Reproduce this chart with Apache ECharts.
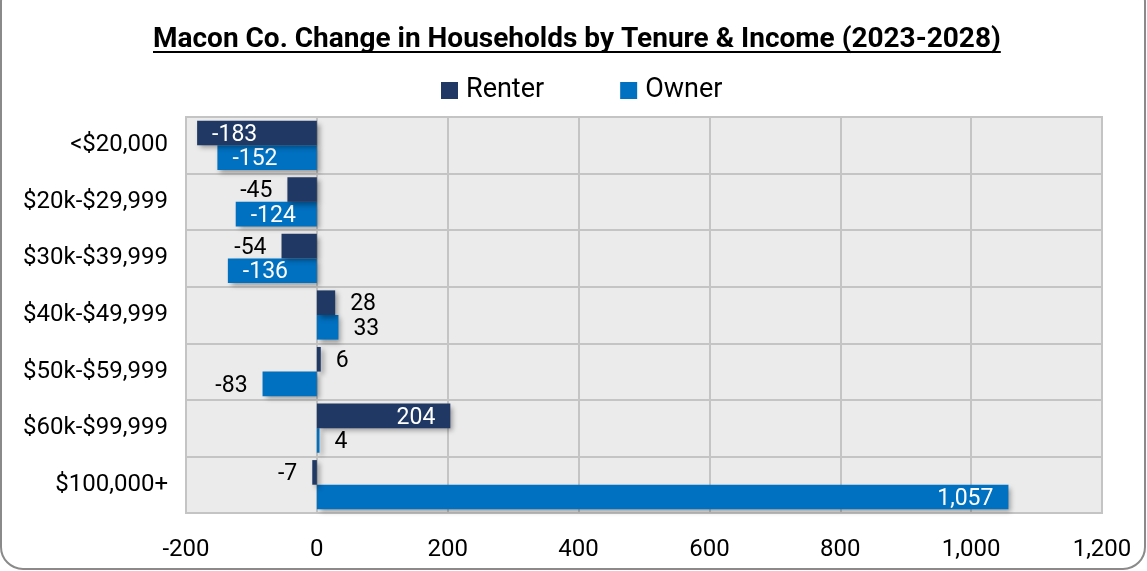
<!DOCTYPE html>
<html>
<head>
<meta charset="utf-8">
<script src="https://cdn.jsdelivr.net/npm/echarts@6/dist/echarts.min.js"></script>
<style>
  html, body { margin: 0; padding: 0; background: #fff; }
  #chart { width: 1147px; height: 571px; }
</style>
</head>
<body>
<div id="chart"></div>
<script>
const titleText = 'Macon Co. Change in Households by Tenure & Income (2023-2028)';
const categories = ['<$20,000', '$20k-$29,999', '$30k-$39,999', '$40k-$49,999', '$50k-$59,999', '$60k-$99,999', '$100,000+'];
const seriesNames = ['Renter', 'Owner'];
const renterValues = [-183, -45, -54, 28, 6, 204, -7];
const ownerValues = [-152, -124, -136, 33, -83, 4, 1057];
const xMin = -200, xMax = 1200, xStep = 200;

const FONT = 'Roboto, "Noto Sans", sans-serif';
const colors = ['#1f3864', '#0070c0'];
const INSIDE_LIMIT = 100;

function fmt(v) {
  return v.toLocaleString('en-US');
}
function toData(values) {
  return values.map(v => {
    const inside = Math.abs(v) >= INSIDE_LIMIT;
    let pos;
    if (inside) pos = v < 0 ? 'insideLeft' : 'insideRight';
    else pos = v < 0 ? 'left' : 'right';
    return {
      value: v,
      label: { position: pos, color: inside ? '#ffffff' : '#000000' }
    };
  });
}

// measure title width for underline
const mc = document.createElement('canvas').getContext('2d');
const titleSize = 28;
mc.font = 'bold ' + titleSize + 'px ' + FONT;
const tw = mc.measureText(titleText).width;
const titleLeft = 153;

const chart = echarts.init(document.getElementById('chart'), null, { renderer: 'canvas' });

const barStyle = (c) => ({
  color: c,
  shadowColor: 'rgba(0,0,0,0.35)',
  shadowBlur: 5,
  shadowOffsetX: 3,
  shadowOffsetY: 3
});

const option = {
  animation: false,
  textStyle: { fontFamily: FONT },
  title: {
    text: titleText,
    left: titleLeft - 5,
    top: 21,
    textStyle: { fontFamily: FONT, fontSize: titleSize, fontWeight: 'bold', color: '#000' }
  },
  legend: {
    data: seriesNames,
    top: 72,
    left: 436,
    itemWidth: 17,
    itemHeight: 17,
    itemGap: 76,
    icon: 'rect',
    textStyle: { fontFamily: FONT, fontSize: 27, color: '#000', padding: [0, 0, 0, 3] }
  },
  grid: {
    left: 186, right: 45, top: 117, bottom: 58,
    show: true,
    backgroundColor: '#ebebeb',
    borderColor: '#c4c4c4',
    borderWidth: 2
  },
  xAxis: {
    type: 'value',
    min: xMin, max: xMax, interval: xStep,
    axisLine: { show: false },
    axisTick: { show: false },
    splitLine: { show: true, lineStyle: { color: '#c4c4c4', width: 2 } },
    axisLabel: {
      margin: 25,
      fontFamily: FONT, fontSize: 24, color: '#000',
      formatter: v => fmt(v)
    }
  },
  yAxis: {
    type: 'category',
    data: categories,
    inverse: true,
    axisLine: { show: false },
    axisTick: { show: false },
    splitLine: { show: true, lineStyle: { color: '#c4c4c4', width: 2 } },
    axisLabel: { margin: 18, fontFamily: FONT, fontSize: 24, color: '#000' }
  },
  series: [
    {
      name: seriesNames[0], type: 'bar',
      data: toData(renterValues),
      barGap: '0%', barCategoryGap: '13%',
      itemStyle: barStyle(colors[0]),
      label: { show: true, distance: 15, fontFamily: FONT, fontSize: 23, offset: [0, 2], formatter: p => fmt(p.value) },
      z: 3
    },
    {
      name: seriesNames[1], type: 'bar',
      data: toData(ownerValues),
      barGap: '0%', barCategoryGap: '13%',
      itemStyle: barStyle(colors[1]),
      label: { show: true, distance: 15, fontFamily: FONT, fontSize: 23, offset: [0, 2], formatter: p => fmt(p.value) },
      z: 2
    }
  ],
  graphic: [
    {
      type: 'rect', silent: true, z: -10,
      shape: { x: 1, y: -20, width: 1144, height: 589, r: 22 },
      style: { fill: 'none', stroke: '#8a8a8a', lineWidth: 2 }
    },
    {
      type: 'line', silent: true,
      shape: { x1: titleLeft, y1: 52, x2: titleLeft + tw, y2: 52 },
      style: { stroke: '#000', lineWidth: 2 }
    }
  ]
};
chart.setOption(option);
</script>
</body>
</html>
